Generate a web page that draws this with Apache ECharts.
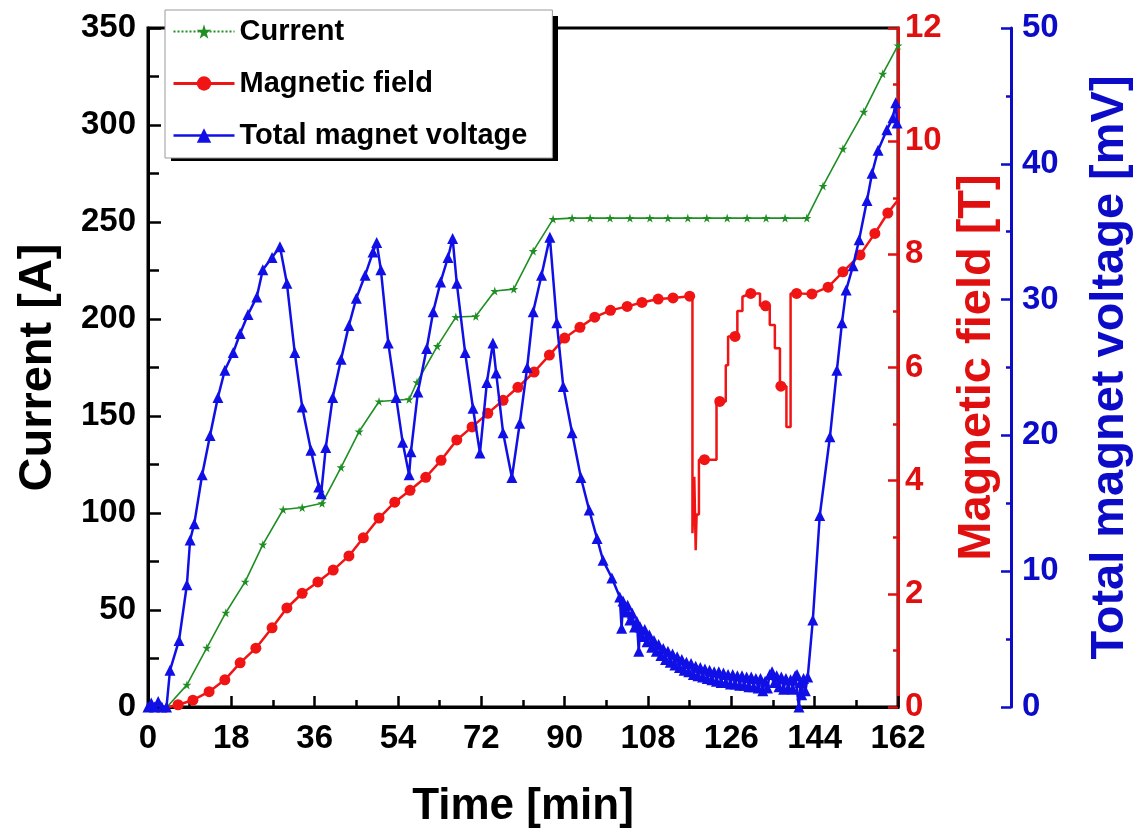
<!DOCTYPE html>
<html><head><meta charset="utf-8">
<script src="https://cdn.jsdelivr.net/npm/echarts@6/dist/echarts.min.js"></script>
<style>html,body{margin:0;padding:0;background:#fff}#c{width:1143px;height:839px}</style>
</head><body><div id="c"></div>
<script>
// ---- data (time in min) ----
const timeRange = [0, 162, 18];
const currentRange = [0, 350, 50];
const fieldRange = [0, 12, 2];
const voltageRange = [0, 50, 10];

const currentData = [
  [4.1,0],[8.4,11.4],[12.7,30.5],[16.8,48.6],[21.0,64.6],[24.8,83.7],[29.2,101.8],[33.3,102.8],[37.6,105],
  [41.7,123.5],[45.6,142],[49.9,157.5],[56.4,158.6],[58.1,167.4],[62.5,186],[66.5,201],[70.8,201.4],
  [74.9,214.4],[79.0,215.4],[83.2,235],[87.5,251.5],[91.6,252],[95.5,252],[99.8,252],[104.1,252],
  [108.4,252],[112.3,252],[116.6,252],[120.7,252],[125.1,252],[129.4,252],[133.5,252],[137.6,252],
  [142.3,252],[145.8,268.6],[150.1,287.7],[154.6,306.8],[158.7,326.4],[162,341]
];

const fieldTrace = [
  [4.5,0],[6.5,0.04],[9.7,0.12],[13.2,0.27],[16.6,0.48],[19.9,0.78],[23.3,1.04],[26.8,1.4],[30.0,1.75],
  [33.3,2.01],[36.7,2.21],[40.0,2.42],[43.4,2.67],[46.5,2.99],[49.9,3.34],[53.3,3.62],[56.6,3.83],
  [60.0,4.06],[63.3,4.36],[66.7,4.72],[70.0,4.95],[73.4,5.19],[76.7,5.42],[79.9,5.65],[83.4,5.92],
  [86.7,6.22],[90.0,6.52],[93.3,6.71],[96.5,6.89],[99.9,7.01],[103.5,7.08],[106.7,7.15],[110.2,7.21],
  [113.4,7.23],[117.0,7.26],[117.6,7.26],[117.6,3.07],[118.0,3.07],[118.0,4.07],[118.3,4.07],
  [118.3,2.77],[118.5,2.77],[118.5,3.4],[119.0,3.4],[119.0,4.37],[122.8,4.37],[122.8,5.40],[124.8,5.40],
  [124.8,6.04],[125.3,6.04],[125.3,6.55],[127.3,6.55],[127.3,7.0],[128.4,7.0],[128.4,7.25],[130.2,7.31],
  [132.2,7.31],[132.2,7.09],[134.3,7.09],[134.3,6.75],[135.4,6.75],[135.4,6.34],[136.5,6.34],
  [136.5,5.67],[137.9,5.67],[137.9,4.95],[138.8,4.95],[138.8,7.31],[140.1,7.31],[143.4,7.3],
  [146.9,7.42],[150.1,7.69],[153.8,7.99],[157.0,8.37],[159.8,8.73],[162,8.96]
];

const fieldDots = [
  [6.5,0.04],[9.7,0.12],[13.2,0.27],[16.6,0.48],[19.9,0.78],[23.3,1.04],[26.8,1.4],[30.0,1.75],
  [33.3,2.01],[36.7,2.21],[40.0,2.42],[43.4,2.67],[46.5,2.99],[49.9,3.34],[53.3,3.62],[56.6,3.83],
  [60.0,4.06],[63.3,4.36],[66.7,4.72],[70.0,4.95],[73.4,5.19],[76.7,5.42],[79.9,5.65],[83.4,5.92],
  [86.7,6.22],[90.0,6.52],[93.3,6.71],[96.5,6.89],[99.9,7.01],[103.5,7.08],[106.7,7.15],[110.2,7.21],
  [113.4,7.23],[117.0,7.26],[120.2,4.37],[123.5,5.40],[126.8,6.55],[130.2,7.31],[133.4,7.09],
  [136.7,5.67],[140.1,7.31],[143.4,7.3],[146.9,7.42],[150.1,7.69],[153.8,7.99],[157.0,8.37],[159.8,8.73]
];

const voltageData = [
  [0,0],[0.7,0.3],[1.4,0],[2.2,0.4],[3.0,0],[4.0,0],[4.75,2.7],[6.7,4.9],[8.4,9.0],[9.1,12.3],[10.0,13.5],
  [11.7,17.1],[13.4,20],[15.1,22.8],[16.6,24.8],[18.4,26.1],[19.9,27.5],[21.6,28.9],[23.5,30.2],[24.8,32.2],
  [26.8,33.1],[28.5,33.9],[30.0,31.2],[31.7,26.1],[33.3,22.1],[35.2,18.9],[36.9,16.2],[37.4,15.7],
  [38.4,19.1],[39.9,22.8],[41.7,25.6],[43.4,28.1],[45.0,30.1],[46.9,31.8],[48.6,33.5],[49.4,34.2],
  [50.3,32.2],[51.9,26.8],[53.6,22.8],[55.0,19.5],[56.4,17.1],[56.8,18.8],[58.3,23.2],[60.2,26.4],
  [61.6,29.1],[63.2,31.3],[64.8,33.1],[65.8,34.5],[66.7,31.2],[68.5,26.1],[70.2,22.0],[71.7,18.7],
  [73.2,23.9],[74.5,26.8],[75.2,24.6],[76.7,20.2],[78.6,16.9],[80.3,20.9],[81.9,25.0],[83.2,29.1],
  [85.0,31.8],[86.8,34.6],[88.3,28.3],[89.7,23.6],[91.6,20.2],[93.5,16.9],[95.3,14.5],[97.0,12.4],
  [98.3,10.8],[100.2,9.5],[101.9,8.1],[102.3,5.8],[102.6,7.8],[103.1,7.0],[103.6,7.5],[104.1,6.4],
  [104.6,6.9],[105.1,5.9],[105.6,6.3],[106.0,4.1],[106.3,5.9],[106.8,5.2],[107.3,5.7],[107.8,4.8],
  [108.3,5.3],[108.8,4.4],[109.3,4.9],[109.8,4.1],[110.3,4.6],[110.8,3.8],[111.3,4.3],[111.8,3.5],
  [112.3,4.1],[112.8,3.3],[113.3,3.9],[113.8,3.1],[114.3,3.7],[114.8,2.9],[115.3,3.5],[115.8,2.7],
  [116.3,3.3],[116.8,2.6],[117.3,3.2],[117.8,2.4],[118.3,3.0],[118.8,2.3],[119.3,2.9],[119.8,2.2],
  [120.3,2.8],[120.8,2.1],[121.3,2.7],[121.8,2.0],[122.3,2.6],[122.8,1.9],[123.3,2.6],[123.8,1.8],
  [124.3,2.5],[124.8,1.8],[125.3,2.4],[125.8,1.7],[126.3,2.4],[126.8,1.7],[127.3,2.3],[127.8,1.6],
  [128.3,2.3],[128.8,1.6],[129.3,2.2],[129.8,1.5],[130.3,2.2],[130.8,1.5],[131.3,2.1],[131.8,1.4],
  [132.3,2.1],[132.8,1.2],[133.3,1.9],[133.8,1.4],[134.3,2.4],[134.8,2.6],[135.3,1.8],[135.8,2.3],
  [136.3,1.5],[136.8,2.2],[137.3,1.3],[137.8,2.1],[138.3,1.4],[138.8,2.0],[139.3,1.3],[139.8,2.3],
  [140.2,2.4],[140.6,0],[140.9,1.8],[141.2,0.9],[141.6,2.1],[142.0,1.2],[142.5,2.2],[143.6,6.4],
  [145.1,14.1],[147.3,19.9],[148.8,24.8],[149.9,28.3],[150.8,30.7],[152.3,32.5],[153.6,34.4],
  [155.3,37.3],[156.4,39.3],[157.7,41.0],[159.6,42.5],[160.9,43.4],[161.5,44.5],[161.8,43.0]
];

// ---- styling ----
const G = '#1f8f24', R = '#f01414', B = '#1010e6';
const RA = '#e01010', BA = '#0b0bc8';
const STAR = 'path://M50,0 L61,35 L98,35 L68,57 L79,91 L50,70 L21,91 L32,57 L2,35 L39,35 Z';
const FONT = 'Liberation Sans';

function yAxisCfg(range, color, opts) {
  return Object.assign({
    type: 'value', min: range[0], max: range[1], interval: range[2],
    axisLine: { show: true, lineStyle: { color: color, width: 3 } },
    axisTick: { show: true, inside: true, length: 10, lineStyle: { color: color, width: 2.5 } },
    minorTick: { show: true, splitNumber: 2, length: 5, lineStyle: { color: color, width: 2.5 } },
    splitLine: { show: false },
    axisLabel: { color: color, fontSize: 33, fontWeight: 'bold', fontFamily: FONT, margin: 10 },
    nameLocation: 'middle', nameRotate: 90,
    nameTextStyle: { color: color, fontSize: 47, fontWeight: 'bold', fontFamily: FONT }
  }, opts);
}

const chart = echarts.init(document.getElementById('c'), null, { renderer: 'canvas' });
chart.setOption({
  animation: false,
  backgroundColor: '#fff',
  textStyle: { fontFamily: FONT },
  grid: { left: 148, right: 245, top: 28, bottom: 132, show: true, borderColor: '#000', borderWidth: 3, backgroundColor: 'transparent' },
  graphic: [{
    type: 'rect', left: 171, top: 16, z: 50, silent: true,
    shape: { width: 387, height: 145 },
    style: { fill: '#000' }
  }],
  legend: {
    orient: 'vertical', left: 165, top: 10, z: 60,
    padding: [7, 25, 8, 7], itemGap: 23, itemWidth: 61, itemHeight: 18,
    backgroundColor: '#fff', borderColor: '#9a9a9a', borderWidth: 1,
    textStyle: { fontSize: 29, fontWeight: 'bold', color: '#000', fontFamily: FONT },
    data: [
      { name: 'Current', lineStyle: { type: 'dotted', width: 2 } },
      { name: 'Magnetic field', lineStyle: { width: 3 } },
      { name: 'Total magnet voltage', lineStyle: { width: 2.5 } }
    ]
  },
  xAxis: {
    type: 'value', min: timeRange[0], max: timeRange[1], interval: timeRange[2],
    axisLine: { lineStyle: { color: '#000', width: 3 } },
    axisTick: { inside: true, length: 11, lineStyle: { color: '#000', width: 2.5 } },
    minorTick: { show: true, splitNumber: 2, length: 7, lineStyle: { color: '#000', width: 2.5 } },
    splitLine: { show: false },
    axisLabel: { color: '#000', fontSize: 33, fontWeight: 'bold', fontFamily: FONT, margin: 15 },
    name: 'Time [min]', nameLocation: 'middle', nameGap: 78,
    nameTextStyle: { color: '#000', fontSize: 44, fontWeight: 'bold', fontFamily: FONT }
  },
  yAxis: [
    yAxisCfg(currentRange, '#000', {
      position: 'left', name: 'Current [A]', nameGap: 86,
      axisTick: { show: true, inside: true, length: 13, lineStyle: { color: '#000', width: 2.5 } },
      minorTick: { show: true, splitNumber: 2, length: 11, lineStyle: { color: '#000', width: 2.5 } },
      axisLabel: { color: '#000', fontSize: 33, fontWeight: 'bold', fontFamily: FONT, margin: 12 }
    }),
    yAxisCfg(fieldRange, RA, {
      position: 'right', offset: 0, name: 'Magnetic field [T]', nameGap: 56,
      axisLabel: { color: RA, fontSize: 33, fontWeight: 'bold', fontFamily: FONT, margin: 7 }
    }),
    yAxisCfg(voltageRange, BA, {
      position: 'right', offset: 113, name: 'Total magnet voltage [mV]', nameGap: 76,
      axisLabel: { color: BA, fontSize: 33, fontWeight: 'bold', fontFamily: FONT, margin: 11 }
    })
  ],
  series: [
    {
      name: 'Current', type: 'line', yAxisIndex: 0, data: currentData,
      symbol: STAR, symbolSize: 9,
      lineStyle: { color: G, width: 1.6 }, itemStyle: { color: G }, z: 2
    },
    {
      name: 'Magnetic field', type: 'line', yAxisIndex: 1, data: fieldTrace,
      symbol: 'circle', showSymbol: false,
      lineStyle: { color: R, width: 2.5 }, itemStyle: { color: R }, z: 3
    },
    {
      name: 'Magnetic field', type: 'scatter', yAxisIndex: 1, data: fieldDots,
      symbol: 'circle', symbolSize: 11, itemStyle: { color: R, opacity: 1 }, z: 3
    },
    {
      name: 'Total magnet voltage', type: 'line', yAxisIndex: 2, data: voltageData,
      symbol: 'triangle', symbolSize: 11,
      lineStyle: { color: B, width: 2.5 }, itemStyle: { color: B }, z: 4
    }
  ]
});
</script>
</body></html>
